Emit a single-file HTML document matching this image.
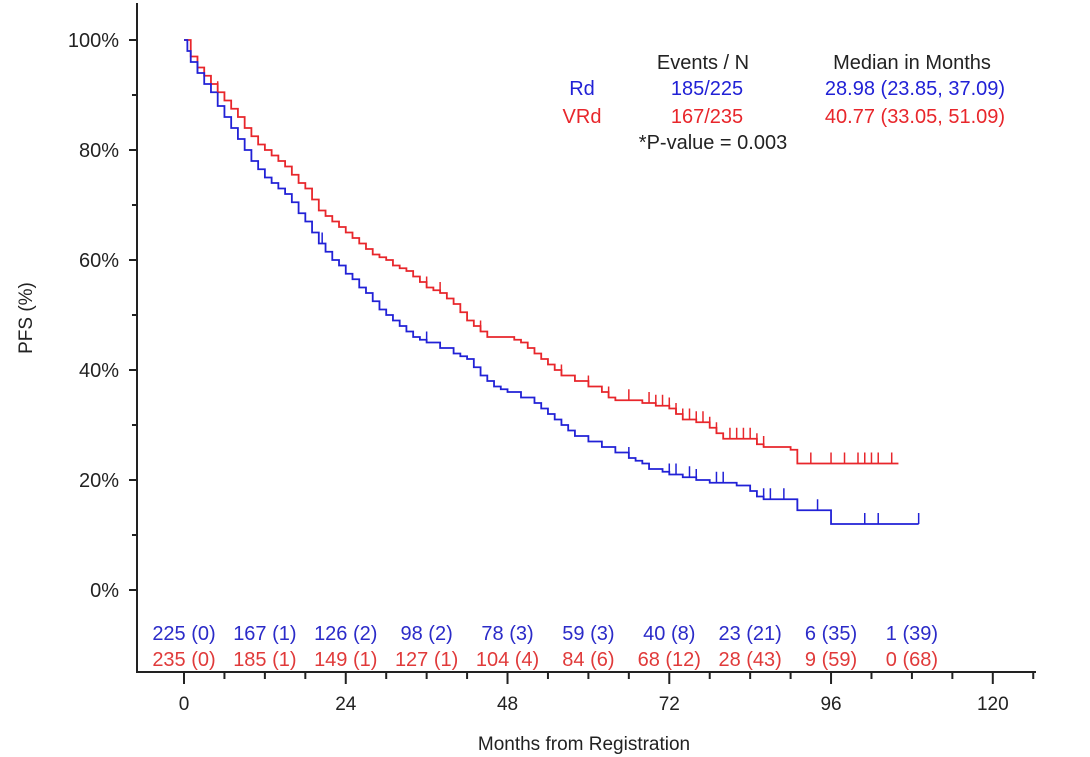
<!DOCTYPE html>
<html><head><meta charset="utf-8"><style>
body{margin:0;background:#fff}
svg{display:block;font-family:"Liberation Sans",Arial,sans-serif}
</style></head><body>
<svg id="c" width="1090" height="757"></svg>
<script>
const rdT=[0,0.5,1,2,3,4,5,6,7,8,9,10,11,12,13,14,15,16,17,18,19,20,21,22,23,24,25,26,27,28,29,30,31,32,33,34,35,36,38,40,41,42,43,44,45,46,47,48,50,52,53,54,55,56,57,58,60,62,64,66,67,68,69,71,72,74,76,78,80,82,84,85,86,90,91,95,96,109];
const rdS=[100,98,96,94,92,90.5,88,86,84,82,80,78,76.5,75,74,73,72,70.5,68.5,67,65,63,61.5,60,59,57.5,56.5,55,54,52.5,51,50,49,48,47,46,45.5,45,44,43,42.5,42,40.5,39,38,37,36.5,36,35,34,33,32,31,30,29,28,27,26,25,24,23.5,23,22,21.5,21,20.5,20,19.5,19.5,19,18,17,16.5,16.5,14.5,14.5,12,12];
const vrdT=[0,1,2,3,4,5,6,7,8,9,10,11,12,13,14,15,16,17,18,19,20,21,22,23,24,25,26,27,28,29,30,31,32,33,34,35,36,37,38,39,40,41,42,43,44,45,47,48,49,50,51,52,53,54,55,56,58,60,62,63,64,66,68,70,72,73,74,76,78,79,80,84,85,86,90,91,106];
const vrdS=[100,97,95,93.5,92,90.5,89,87.5,86,84,82.5,81,80,79,78,77,75.5,74,73,71,69,68,67,66,65,64,63,62,61,60.5,60,59,58.5,58,57,56,55,54.5,54,53,52,50.5,49,48,47,46,46,46,45.5,45,44,43,42,41,40,39,38,37,36,35,34.5,34.5,34,33.5,33,32,31,30.5,29.5,28.5,27.5,27.5,26.5,26,25.5,23,23];
const rdCens=[2,20.5,36,66,72,73,75,76,79,80,86,87,89,91,94,101,103,109];
const vrdCens=[5,36,38,44,56,60,63,66,69,70,71,72,73,74,75,76,77,78,79,81,82,83,84,85,86,93,96,98,100,101,102,103,105];
const riskT=[0,12,24,36,48,60,72,84,96,108];
const rdRisk=["225 (0)","167 (1)","126 (2)","98 (2)","78 (3)","59 (3)","40 (8)","23 (21)","6 (35)","1 (39)"];
const vrdRisk=["235 (0)","185 (1)","149 (1)","127 (1)","104 (4)","84 (6)","68 (12)","28 (43)","9 (59)","0 (68)"];
const xTicks=[0,24,48,72,96,120];
const yTicks=[0,20,40,60,80,100];

const X=m=>184+6.74*m, Y=p=>590-5.5*p;
const svg=document.getElementById('c');
const NS='http://www.w3.org/2000/svg';
function mk(t,a,txt){const e=document.createElementNS(NS,t);for(const k in a)e.setAttribute(k,a[k]);if(txt!=null)e.textContent=txt;svg.appendChild(e);return e;}
let e=mk('line',{x1:137,y1:3,x2:137,y2:673,stroke:'#222','stroke-width':2});

e=mk('line',{x1:136,y1:672,x2:1036,y2:672,stroke:'#222','stroke-width':2});

for(let p=0;p<=100;p+=10){const maj=p%20==0;
 e=mk('line',{x1:maj?129:132,y1:Y(p),x2:137,y2:Y(p),stroke:'#222','stroke-width':2});
 }
yTicks.forEach(p=>{e=mk('text',{x:119,y:Y(p)+7,'text-anchor':'end','font-size':20,fill:'#222'},p+'%');
 });
for(let m=0;m<=126;m+=6){if(X(m)>1036)break;const maj=m%24==0;
 e=mk('line',{x1:X(m),y1:672,x2:X(m),y2:maj?684:679,stroke:'#222','stroke-width':2});
 }
xTicks.forEach(m=>{e=mk('text',{x:X(m),y:710,'text-anchor':'middle','font-size':19,fill:'#222'},m);
 });
e=mk('text',{x:584,y:750,'text-anchor':'middle','font-size':19,fill:'#222'},'Months from Registration');

e=mk('text',{x:0,y:0,'text-anchor':'middle','font-size':19,fill:'#222',transform:'translate(32,318) rotate(-90)'},'PFS (%)');

function curve(T,S,c,name){let d='M'+X(T[0])+','+Y(S[0]);
 for(let i=1;i<T.length;i++){d+=' H'+X(T[i])+' V'+Y(S[i]);}
 const p=mk('path',{d:d,fill:'none',stroke:c,'stroke-width':1.8});
 }
function sAt(T,S,m){let v=S[0];for(let i=0;i<T.length;i++)if(T[i]<=m)v=S[i];return v;}
function cens(C,T,S,c,name){C.forEach(m=>{const y=Y(sAt(T,S,m));
 const l=mk('line',{x1:X(m),y1:y-11,x2:X(m),y2:y,stroke:c,'stroke-width':1.5});
 });}
curve(vrdT,vrdS,'#e8262b','vrd-curve');
curve(rdT,rdS,'#2121d6','rd-curve');
cens(vrdCens,vrdT,vrdS,'#e8262b','vrd-censor-mark');
cens(rdCens,rdT,rdS,'#2121d6','rd-censor-mark');
riskT.forEach((m,i)=>{
 e=mk('text',{x:X(m),y:640,'text-anchor':'middle','font-size':20,fill:'#2b2bc8'},rdRisk[i]);
 
 e=mk('text',{x:X(m),y:666,'text-anchor':'middle','font-size':20,fill:'#e03a3a'},vrdRisk[i]);
 });
const leg=[[703,69,'middle','#222','Events / N','legend-header-events'],[912,69,'middle','#222','Median in Months','legend-header-median'],
[582,95,'middle','#2121d6','Rd','legend-rd'],[707,95,'middle','#2121d6','185/225','legend-rd-events'],[915,95,'middle','#2121d6','28.98 (23.85, 37.09)','legend-rd-median'],
[582,123,'middle','#e8262b','VRd','legend-vrd'],[707,123,'middle','#e8262b','167/235','legend-vrd-events'],[915,123,'middle','#e8262b','40.77 (33.05, 51.09)','legend-vrd-median'],
[713,149,'middle','#222','*P-value = 0.003','p-value']];
leg.forEach(a=>{e=mk('text',{x:a[0],y:a[1],'text-anchor':a[2],'font-size':20,fill:a[3]},a[4]);
 });
</script>
</body></html>
